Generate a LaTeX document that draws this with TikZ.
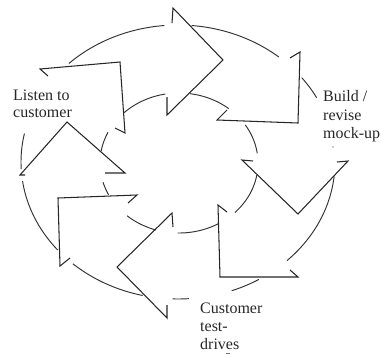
\documentclass[tikz,border=0pt]{standalone}
\usepackage{fontspec}
\setmainfont{Liberation Serif}
\begin{document}
\begin{tikzpicture}[x=1pt,y=-1pt,
  ring/.style={line width=0.95pt,draw=black!80},
  headline/.style={line width=1.05pt,draw=black!85,line join=miter},
  lbl/.style={inner sep=0pt,anchor=base west,text=black!85,font=\fontsize{16}{18}\selectfont},
  tiny/.style={inner sep=0pt,text=black!70,font=\fontsize{8}{9}\selectfont},
  speck/.style={line width=0.8pt,draw=black!55}]
\useasboundingbox (0,0) rectangle (381,357);
% outer ellipse pieces: centre (178,162), radii 157 x 137
\foreach \a/\b in {-134/-95,-85/-50,-38/-28,6/46,59/70,86/92,103/132,140/172,177/192}
  \draw[ring] plot[domain=\a:\b,samples=40,smooth,variable=\t] ({178+157*cos(\t)},{162+137*sin(\t)});
% inner ellipse pieces: centre (179,163), radii 79 x 70
\foreach \a/\b in {-134/-100,-82/-51,-33/-8,10/45,60/91,107/131,153/164,190/206}
  \draw[ring] plot[domain=\a:\b,samples=30,smooth,variable=\t] ({179+79*cos(\t)},{163+70*sin(\t)});
% arrowheads: stub -- back corner -- tip -- back corner -- stub
\coordinate (a1s) at (172,23); \coordinate (a1b) at (173,8); \coordinate (a1t) at (223,60); \coordinate (a1c) at (167,115); \coordinate (a1u) at (167,97);
\coordinate (a2s) at (290,58); \coordinate (a2b) at (300,52); \coordinate (a2t) at (298,123); \coordinate (a2c) at (217,120); \coordinate (a2u) at (227,110);
\coordinate (a3s) at (337,162); \coordinate (a3b) at (348,161); \coordinate (a3t) at (298,214); \coordinate (a3c) at (242,160); \coordinate (a3u) at (253,161);
\coordinate (a4s) at (290,270); \coordinate (a4b) at (298,277); \coordinate (a4t) at (220,277); \coordinate (a4c) at (218,205); \coordinate (a4u) at (227,212);
\coordinate (a5s) at (167,305); \coordinate (a5b) at (167,318); \coordinate (a5t) at (117,267); \coordinate (a5c) at (172,213); \coordinate (a5u) at (173,227);
\coordinate (a6s) at (70,258); \coordinate (a6b) at (60,266); \coordinate (a6t) at (58,198); \coordinate (a6c) at (137,195); \coordinate (a6u) at (128,203);
\coordinate (a7s) at (25,175); \coordinate (a7b) at (20,175); \coordinate (a7t) at (67,122); \coordinate (a7c) at (125,173); \coordinate (a7u) at (105,173);
\coordinate (a8s) at (48,76); \coordinate (a8b) at (40,69); \coordinate (a8t) at (120,62); \coordinate (a8c) at (125,133); \coordinate (a8u) at (115,128);
\foreach \i in {1,...,8}
  \draw[headline] (a\i s) -- (a\i b) -- (a\i t) -- (a\i c) -- (a\i u);
% labels
\node[lbl] (l1) at (13,100) {Listen to};
\node[lbl] (l2) at (13,117) {customer};
\node[lbl] (b1) at (323,101) {Build /};
\node[lbl] (b2) at (323,120) {revise};
\node[lbl] (b3) at (323,138) {mock-up};
\node[tiny] (b4) at (333,148) {,};
\node[lbl] (c1) at (200,313) {Customer};
\node[lbl] (c2) at (200,331) {test-};
\node[lbl] (c3) at (200,349) {drives};
\coordinate (m1) at (226,353); \coordinate (m2) at (230,353);
\draw[speck] (m1) -- (m2);
\end{tikzpicture}
\end{document}
